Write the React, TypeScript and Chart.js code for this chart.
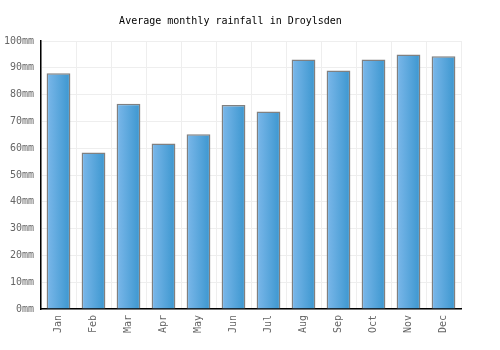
import React, { useEffect, useRef } from "react";
import { Chart, registerables } from "chart.js";

Chart.register(...registerables);

const months = ["Jan", "Feb", "Mar", "Apr", "May", "Jun", "Jul", "Aug", "Sep", "Oct", "Nov", "Dec"];
const rainfall = [88, 58.4, 76.6, 61.8, 65.2, 76.1, 73.7, 93.1, 89, 93.1, 95, 94.3];
const yTicks = [0, 10, 20, 30, 40, 50, 60, 70, 80, 90, 100];
const titleText = "Average monthly rainfall in Droylsden";

const FONT = "'DejaVu Sans Mono', monospace";
const BAR_PCT = 0.68;

export default function App() {
  const ref = useRef<HTMLCanvasElement | null>(null);
  useEffect(() => {
    document.body.style.margin = "0";
    const canvas = ref.current!;
    const chart = new Chart(canvas, {
      type: "bar",
      data: {
        labels: months,
        datasets: [
          {
            data: rainfall,
            borderColor: "#808080",
            borderWidth: 1.5,
            categoryPercentage: 1,
            barPercentage: BAR_PCT,
            backgroundColor: (ctx: any) => {
              const c = ctx.chart;
              const xs = c.scales && c.scales.x;
              if (!xs || !c.chartArea) return "#5aa8dc";
              const center = xs.getPixelForValue(ctx.dataIndex);
              const cw = (xs.right - xs.left) / months.length;
              const half = (cw * BAR_PCT) / 2;
              const g = c.ctx.createLinearGradient(center - half, 0, center + half, 0);
              g.addColorStop(0, "#7cb8ea");
              g.addColorStop(1, "#3b96cf");
              return g;
            },
          },
        ],
      },
      options: {
        animation: false,
        responsive: false,
        maintainAspectRatio: false,
        layout: { padding: { top: 15, right: 39, left: 0, bottom: 0 } },
        plugins: {
          legend: { display: false },
          tooltip: { enabled: false },
          title: {
            display: true,
            text: titleText,
            color: "#000",
            font: { family: FONT, size: 10, weight: "normal" },
            padding: { top: 0, bottom: 14 },
          },
        },
        scales: {
          x: {
            offset: true,
            grid: { color: "#eeeeee", drawTicks: false, offset: true },
            border: { color: "#000", width: 1.5 },
            ticks: {
              color: "#666",
              font: { family: FONT, size: 10 },
              minRotation: 90,
              maxRotation: 90,
              padding: 6,
            },
            afterFit: (s: any) => {
              s.height = 41;
            },
          },
          y: {
            min: 0,
            max: 100,
            afterBuildTicks: (s: any) => {
              s.ticks = yTicks.map((v) => ({ value: v }));
            },
            grid: { color: "#eeeeee", drawTicks: false },
            border: { color: "#000", width: 1.5 },
            ticks: {
              color: "#666",
              font: { family: FONT, size: 10 },
              padding: 7,
              callback: (v: any) => v + "mm",
            },
            afterFit: (s: any) => {
              s.width = 41;
            },
          },
        },
      },
    } as any);
    return () => chart.destroy();
  }, []);
  return (
    <div style={{ position: "fixed", left: 0, top: 0, width: 500, height: 350, background: "#fff" }}>
      <canvas ref={ref} width={500} height={350} style={{ width: 500, height: 350 }} />
    </div>
  );
}
